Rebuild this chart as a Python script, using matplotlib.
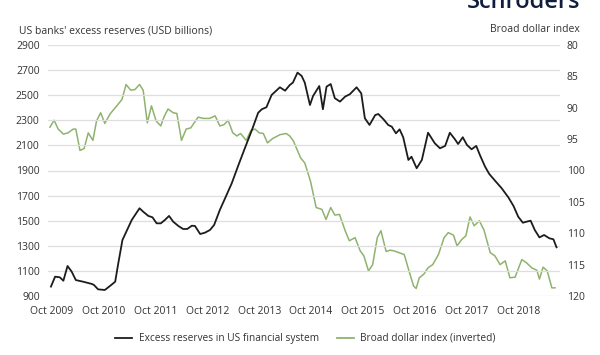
import matplotlib
matplotlib.use("Agg")
import matplotlib.pyplot as plt
from matplotlib.lines import Line2D

plt.rcParams['font.family'] = ['Open Sans', 'DejaVu Sans']

# Excess reserves in US financial system (USD billions), x as decimal years
res_t = [2009.73, 2009.81, 2009.90, 2009.97, 2010.05, 2010.13, 2010.21, 2010.35, 2010.52, 2010.56,
         2010.64, 2010.77, 2010.87, 2010.97, 2011.03, 2011.11, 2011.20, 2011.29, 2011.44, 2011.51,
         2011.61, 2011.69, 2011.77, 2011.85, 2011.93, 2012.01, 2012.09, 2012.19, 2012.28, 2012.36,
         2012.45, 2012.51, 2012.61, 2012.70, 2012.80, 2012.88, 2012.99, 2013.12, 2013.22, 2013.35,
         2013.48, 2013.61, 2013.73, 2013.80, 2013.89, 2013.99, 2014.15, 2014.25, 2014.34, 2014.40,
         2014.49, 2014.57, 2014.63, 2014.73, 2014.79, 2014.91, 2014.98, 2015.05, 2015.13, 2015.21,
         2015.31, 2015.41, 2015.50, 2015.63, 2015.72, 2015.79, 2015.88, 2015.99, 2016.05, 2016.15,
         2016.24, 2016.31, 2016.39, 2016.46, 2016.53, 2016.63, 2016.69, 2016.79, 2016.89, 2017.01,
         2017.14, 2017.24, 2017.34, 2017.43, 2017.53, 2017.59, 2017.68, 2017.76, 2017.85, 2017.94,
         2018.01, 2018.11, 2018.19, 2018.30, 2018.43, 2018.56, 2018.66, 2018.75, 2018.84, 2018.91,
         2018.99, 2019.07, 2019.16, 2019.25, 2019.35, 2019.43, 2019.49]
res_v = [975, 1054, 1049, 1022, 1139, 1094, 1027, 1014, 996, 988,
         953, 948, 980, 1014, 1161, 1346, 1426, 1506, 1599, 1572,
         1538, 1527, 1479, 1479, 1506, 1538, 1492, 1458, 1434, 1434,
         1460, 1458, 1394, 1404, 1426, 1466, 1585, 1705, 1798, 1944,
         2085, 2223, 2360, 2388, 2404, 2502, 2563, 2536, 2581, 2600,
         2680, 2653, 2600, 2422, 2494, 2573, 2388, 2568, 2589, 2476,
         2449, 2489, 2508, 2563, 2515, 2316, 2263, 2342, 2350, 2308,
         2263, 2249, 2196, 2228, 2165, 1984, 2010, 1918, 1984, 2201,
         2117, 2077, 2096, 2201, 2148, 2111, 2165, 2104, 2069, 2096,
         2024, 1931, 1873, 1820, 1759, 1686, 1617, 1532, 1484, 1492,
         1500, 1426, 1367, 1386, 1360, 1352, 1288]

# Broad dollar index (plotted inverted), x as decimal years
usd_t = [2009.71, 2009.79, 2009.87, 2009.97, 2010.06, 2010.16, 2010.21, 2010.29, 2010.37, 2010.45,
         2010.54, 2010.61, 2010.69, 2010.77, 2010.87, 2011.00, 2011.10, 2011.18, 2011.27, 2011.35,
         2011.44, 2011.51, 2011.59, 2011.67, 2011.76, 2011.85, 2011.91, 2011.99, 2012.09, 2012.16,
         2012.25, 2012.34, 2012.43, 2012.57, 2012.67, 2012.79, 2012.90, 2012.99, 2013.07, 2013.15,
         2013.24, 2013.32, 2013.39, 2013.50, 2013.59, 2013.67, 2013.75, 2013.83, 2013.91, 2014.01,
         2014.15, 2014.27, 2014.34, 2014.41, 2014.55, 2014.63, 2014.74, 2014.85, 2014.96, 2015.04,
         2015.13, 2015.21, 2015.30, 2015.41, 2015.49, 2015.60, 2015.70, 2015.77, 2015.86, 2015.94,
         2016.03, 2016.10, 2016.20, 2016.28, 2016.35, 2016.45, 2016.55, 2016.66, 2016.73, 2016.78,
         2016.84, 2016.93, 2017.01, 2017.10, 2017.21, 2017.32, 2017.40, 2017.50, 2017.57, 2017.66,
         2017.74, 2017.82, 2017.90, 2018.00, 2018.09, 2018.21, 2018.30, 2018.40, 2018.50, 2018.59,
         2018.69, 2018.82, 2018.91, 2019.01, 2019.11, 2019.16, 2019.23, 2019.31, 2019.40, 2019.46]
usd_v = [93.1, 92.0, 93.4, 94.2, 94.0, 93.4, 93.4, 96.8, 96.5, 94.0,
         95.2, 92.1, 90.8, 92.5, 91.0, 89.7, 88.7, 86.3, 87.2, 87.1,
         86.3, 87.2, 92.4, 89.7, 92.1, 92.9, 91.5, 90.2, 90.8, 90.9,
         95.2, 93.4, 93.2, 91.5, 91.7, 91.7, 91.3, 92.9, 92.7, 92.0,
         94.0, 94.5, 94.1, 95.2, 93.6, 93.4, 94.0, 94.1, 95.6, 94.9,
         94.3, 94.1, 94.5, 95.3, 98.0, 98.8, 101.7, 105.9, 106.2, 107.8,
         105.9, 107.1, 107.0, 109.6, 111.2, 110.7, 112.8, 113.6, 116.0, 115.0,
         110.7, 109.6, 112.9, 112.7, 112.8, 113.1, 113.4, 116.5, 118.4, 118.8,
         117.1, 116.5, 115.5, 115.0, 113.4, 110.7, 109.9, 110.3, 112.0, 111.0,
         110.4, 107.4, 108.8, 108.0, 109.5, 113.1, 113.6, 115.0, 114.4, 117.1,
         117.0, 114.2, 114.7, 115.5, 115.9, 117.3, 115.4, 116.0, 118.7, 118.7]

left_ticks = list(range(900, 3000, 200))
right_ticks = [80, 85, 90, 95, 100, 105, 110, 115, 120]
x_ticks = [2009.75 + k for k in range(10)]
x_labels = ["Oct %d" % (2009 + k) for k in range(10)]
legend_labels = ["Excess reserves in US financial system", "Broad dollar index (inverted)"]

W, H = 600, 355
BLACK = '#1c1c1c'
GREEN = '#8fb36e'
txt = '#333333'

fig = plt.figure(figsize=(6, 3.55), dpi=100)
fig.patch.set_facecolor('white')
ax = fig.add_axes([48 / W, 59 / H, 512 / W, 251 / H])
ax2 = ax.twinx()
ax.set_zorder(ax2.get_zorder() + 1)
ax.patch.set_visible(False)

ax.plot(res_t, res_v, color=BLACK, lw=1.3, solid_joinstyle='round')
ax2.plot(usd_t, usd_v, color=GREEN, lw=1.1, solid_joinstyle='round')

ax.set_xlim(2009.673, 2019.557)
ax.set_ylim(900, 2900)
ax2.set_ylim(120, 80)
ax.set_yticks(left_ticks)
ax2.set_yticks(right_ticks)
ax.set_xticks(x_ticks)
ax.set_xticklabels(x_labels)

ax.grid(axis='y', color='#dedede', lw=0.9)
ax.grid(axis='x', visible=False)
for a in (ax, ax2):
    for s in a.spines.values():
        s.set_visible(False)
ax.tick_params(axis='y', length=0, pad=6, labelsize=7.5, labelcolor=txt)
ax.tick_params(axis='x', length=0, pad=7, labelsize=7.5, labelcolor=txt)
ax2.tick_params(axis='y', length=0, pad=5, labelsize=7.5, labelcolor=txt)

fig.text(19 / W, 1 - 31 / H, "US banks' excess reserves (USD billions)", ha='left', va='center',
         fontsize=7.5, color=txt)
fig.text(580 / W, 1 - 30 / H, "Broad dollar index", ha='right', va='center',
         fontsize=7.5, color=txt)
fig.text(580 / W, 1 - 8 / H, "Schroders", ha='right', va='baseline', fontsize=17,
         color='#0f1e3c', fontweight='semibold')

# legend, laid out by hand
ly = 1 - 338 / H
for (x0, x1, xt), col, lab in zip([(115, 132, 139), (337, 354, 360)], [BLACK, GREEN], legend_labels):
    fig.add_artist(Line2D([x0 / W, x1 / W], [ly, ly], transform=fig.transFigure, color=col, lw=1.3))
    fig.text(xt / W, ly, lab, ha='left', va='center', fontsize=7.3, color=txt)

fig.savefig('out.png', dpi=100, facecolor='white')
